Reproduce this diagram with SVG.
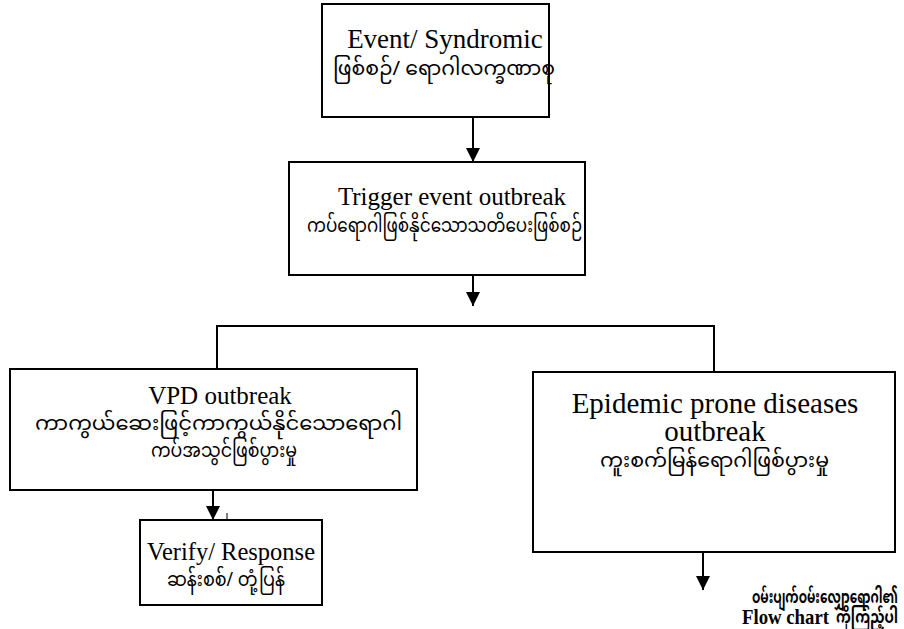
<svg xmlns="http://www.w3.org/2000/svg" width="904" height="629" viewBox="0 0 904 629">
  <style>
    .box { fill: #ffffff; stroke: #000000; stroke-width: 2; }
    .en { font-family: "Liberation Serif", "Times New Roman", serif; fill: #000; text-anchor: middle; }
    .en-left { font-family: "Liberation Serif", "Times New Roman", serif; fill: #000; text-anchor: start; }
    .my { font-family: "Noto Sans Myanmar", "Padauk", "Myanmar Text", "Noto Sans", serif; font-size: 19px; fill: #000; }
    .note { font-family: "Noto Sans Myanmar", "Padauk", "Myanmar Text", "Noto Sans", serif; font-size: 17px; fill: #000; font-weight: bold; }
    .bold { font-weight: bold; }
    .line { fill: none; stroke: #000000; stroke-width: 2; }
  </style>
  <defs>
    <marker id="arrow" markerUnits="userSpaceOnUse" markerWidth="14" markerHeight="16" refX="14" refY="7" orient="auto">
      <path d="M0,0 L14,7 L0,14 Z" fill="#000"/>
    </marker>
  </defs>

  <rect width="904" height="629" fill="#ffffff"/>

  <!-- connectors -->
  <g id="connectors">
    <line class="line" x1="473" y1="117" x2="473" y2="162" marker-end="url(#arrow)"/>
    <line class="line" x1="473" y1="275" x2="473" y2="306" marker-end="url(#arrow)"/>
    <polyline class="line" points="217,369 217,326 714,326 714,372"/>
    <line class="line" x1="213" y1="490" x2="213" y2="520" marker-end="url(#arrow)"/>
    <line x1="227" y1="513" x2="227" y2="519" stroke="#000" stroke-width="1"/>
    <line class="line" x1="703" y1="552" x2="703" y2="590" marker-end="url(#arrow)"/>
  </g>

  <!-- Event / Syndromic -->
  <g id="node-event">
    <rect class="box" x="322" y="4" width="227" height="113"/>
    <text class="en" x="445" y="48" font-size="27">Event/ Syndromic</text>
    <text class="my" x="333" y="75" textLength="222" lengthAdjust="spacingAndGlyphs">ဖြစ်စဉ်/  ရောဂါလက္ခဏာစု</text>
  </g>

  <!-- Trigger event outbreak -->
  <g id="node-trigger">
    <rect class="box" x="289" y="162" width="296" height="113"/>
    <text class="en" x="452" y="205" font-size="25">Trigger event outbreak</text>
    <text class="my" x="307" y="232" textLength="275" lengthAdjust="spacingAndGlyphs">ကပ်ရောဂါဖြစ်နိုင်သောသတိပေးဖြစ်စဉ်</text>
  </g>

  <!-- VPD outbreak -->
  <g id="node-vpd">
    <rect class="box" x="10" y="369" width="407" height="121"/>
    <text class="en" x="220" y="404" font-size="25">VPD outbreak</text>
    <text class="my" x="35" y="430" textLength="367" lengthAdjust="spacingAndGlyphs">ကာကွယ်ဆေးဖြင့်ကာကွယ်နိုင်သောရောဂါ</text>
    <text class="my" x="151" y="457" textLength="146" lengthAdjust="spacingAndGlyphs">ကပ်အသွင်ဖြစ်ပွားမှု</text>
  </g>

  <!-- Epidemic prone diseases outbreak -->
  <g id="node-epidemic">
    <rect class="box" x="533" y="372" width="362" height="180"/>
    <text class="en" x="715" y="413" font-size="29">Epidemic prone diseases</text>
    <text class="en" x="715" y="441" font-size="29">outbreak</text>
    <text class="my" x="600" y="467" textLength="229" lengthAdjust="spacingAndGlyphs">ကူးစက်မြန်ရောဂါဖြစ်ပွားမှု</text>
  </g>

  <!-- Verify / Response -->
  <g id="node-verify">
    <rect class="box" x="140" y="520" width="182" height="85"/>
    <text class="en" x="231" y="560" font-size="24.5">Verify/ Response</text>
    <text class="my" x="167" y="586" textLength="118" lengthAdjust="spacingAndGlyphs">ဆန်းစစ်/  တုံ့ပြန်</text>
  </g>

  <!-- Note below the epidemic branch -->
  <g id="node-note">
    <text class="note" x="752" y="603" textLength="146" lengthAdjust="spacingAndGlyphs">ဝမ်းပျက်ဝမ်းလျှောရောဂါ၏</text>
    <text class="en-left bold" x="742" y="624" font-size="20" textLength="87" lengthAdjust="spacingAndGlyphs">Flow chart</text>
    <text class="note" x="836" y="623" textLength="62" lengthAdjust="spacingAndGlyphs">ကိုကြည့်ပါ</text>
  </g>
</svg>
